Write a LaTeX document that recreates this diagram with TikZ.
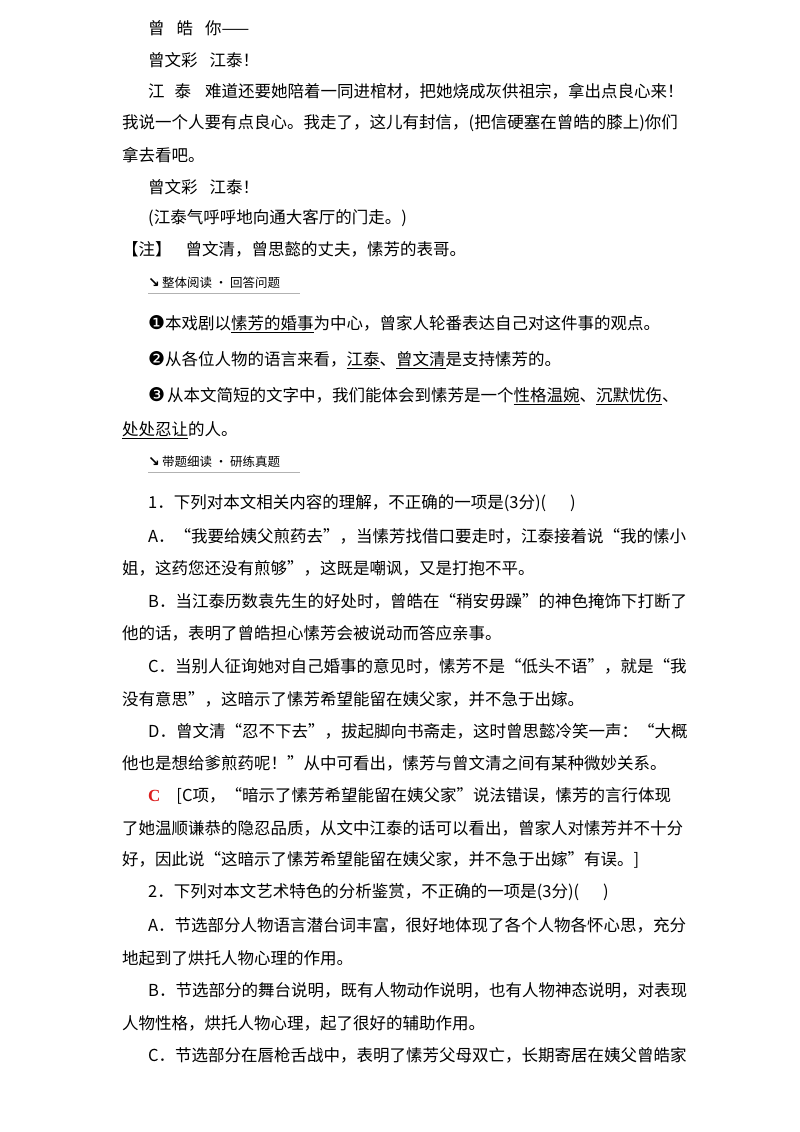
\documentclass[tikz,border=0pt]{standalone}
\usepackage{fontspec}
\setmainfont{Liberation Serif}
\newfontfamily\cjk{Noto Sans CJK SC}
\newfontfamily\dv{DejaVu Sans}
\definecolor{ansred}{RGB}{220,30,30}
\begin{document}
\begin{tikzpicture}[x=1pt,y=-1pt,
  ln/.style={anchor=west,inner sep=0pt,font=\cjk\fontsize{16.5}{18}\selectfont},
  hd/.style={anchor=west,inner sep=0pt,font=\cjk\fontsize{12.5}{14}\selectfont}]
\useasboundingbox (0,0) rectangle (800,1132);
\fill[white] (0,0) rectangle (800,1132);
\node[ln] (l1) at (148,28) {曾\hspace{12pt}皓\hspace{12pt}你——};
\node[ln] (l2) at (148,60) {曾文彩\hspace{12pt}江泰！};
\node[ln] (l3) at (148,91) {江\hspace{10pt}泰\hspace{14pt}难道还要她陪着一同进棺材，把她烧成灰供祖宗，拿出点良心来！};
\node[ln] (l4) at (122,123) {我说一个人要有点良心。我走了，这儿有封信，(把信硬塞在曾皓的膝上)你们};
\node[ln] (l5) at (122,155) {拿去看吧。};
\node[ln] (l6) at (148,187) {曾文彩\hspace{12pt}江泰！};
\node[ln] (l7) at (148,218) {(江泰气呼呼地向通大客厅的门走。)};
\node[ln] (l8) at (122,249) {【注】\hspace{14pt}曾文清，曾思懿的丈夫，愫芳的表哥。};
\node[hd] (h1) at (148,283) {{\dv\bfseries\fontsize{14}{14}\selectfont ↘}\,整体阅读 · 回答问题};
\draw[gray!60,line width=1pt] (148,293) -- (300,293);
\node[ln] (p1) at (148,324) {{\dv\fontsize{19}{19}\selectfont ❶}本戏剧以\underline{愫芳的婚事}为中心，曾家人轮番表达自己对这件事的观点。};
\node[ln] (p2) at (148,360) {{\dv\fontsize{19}{19}\selectfont ❷}从各位人物的语言来看，\underline{江泰}、\underline{曾文清}是支持愫芳的。};
\node[ln] (p3) at (148,396) {{\dv\fontsize{19}{19}\selectfont ❸}\hspace{2pt}从本文简短的文字中，我们能体会到愫芳是一个\underline{性格温婉}、\underline{沉默忧伤}、};
\node[ln] (p4) at (122,430) {\underline{处处忍让}的人。};
\node[hd] (h2) at (148,462) {{\dv\bfseries\fontsize{14}{14}\selectfont ↘}\,带题细读 · 研练真题};
\draw[gray!60,line width=1pt] (148,472) -- (300,472);
\node[ln] (q1) at (148,503) {1．下列对本文相关内容的理解，不正确的一项是(3分)(\hspace{24pt})};
\node[ln] (a1) at (148,536) {A．“我要给姨父煎药去”，当愫芳找借口要走时，江泰接着说“我的愫小};
\node[ln] (a2) at (122,568) {姐，这药您还没有煎够”，这既是嘲讽，又是打抱不平。};
\node[ln] (b1) at (148,601) {B．当江泰历数袁先生的好处时，曾皓在“稍安毋躁”的神色掩饰下打断了};
\node[ln] (b2) at (122,633) {他的话，表明了曾皓担心愫芳会被说动而答应亲事。};
\node[ln] (c1) at (148,666) {C．当别人征询她对自己婚事的意见时，愫芳不是“低头不语”，就是“我};
\node[ln] (c2) at (122,699) {没有意思”，这暗示了愫芳希望能留在姨父家，并不急于出嫁。};
\node[ln] (d1) at (148,731) {D．曾文清“忍不下去”，拔起脚向书斋走，这时曾思懿冷笑一声：“大概};
\node[ln] (d2) at (122,763) {他也是想给爹煎药呢！”从中可看出，愫芳与曾文清之间有某种微妙关系。};
\node[ln] (r1) at (148,796) {\textcolor{ansred}{\bfseries\fontsize{17}{18}\selectfont\rmfamily C}\hspace{16pt}[C项，“暗示了愫芳希望能留在姨父家”说法错误，愫芳的言行体现};
\node[ln] (r2) at (122,828) {了她温顺谦恭的隐忍品质，从文中江泰的话可以看出，曾家人对愫芳并不十分};
\node[ln] (r3) at (122,860) {好，因此说“这暗示了愫芳希望能留在姨父家，并不急于出嫁”有误。]};
\node[ln] (q2) at (148,892) {2．下列对本文艺术特色的分析鉴赏，不正确的一项是(3分)(\hspace{24pt})};
\node[ln] (e1) at (148,925) {A．节选部分人物语言潜台词丰富，很好地体现了各个人物各怀心思，充分};
\node[ln] (e2) at (122,958) {地起到了烘托人物心理的作用。};
\node[ln] (f1) at (148,990) {B．节选部分的舞台说明，既有人物动作说明，也有人物神态说明，对表现};
\node[ln] (f2) at (122,1023) {人物性格，烘托人物心理，起了很好的辅助作用。};
\node[ln] (g1) at (148,1055) {C．节选部分在唇枪舌战中，表明了愫芳父母双亡，长期寄居在姨父曾皓家};
\end{tikzpicture}
\end{document}
